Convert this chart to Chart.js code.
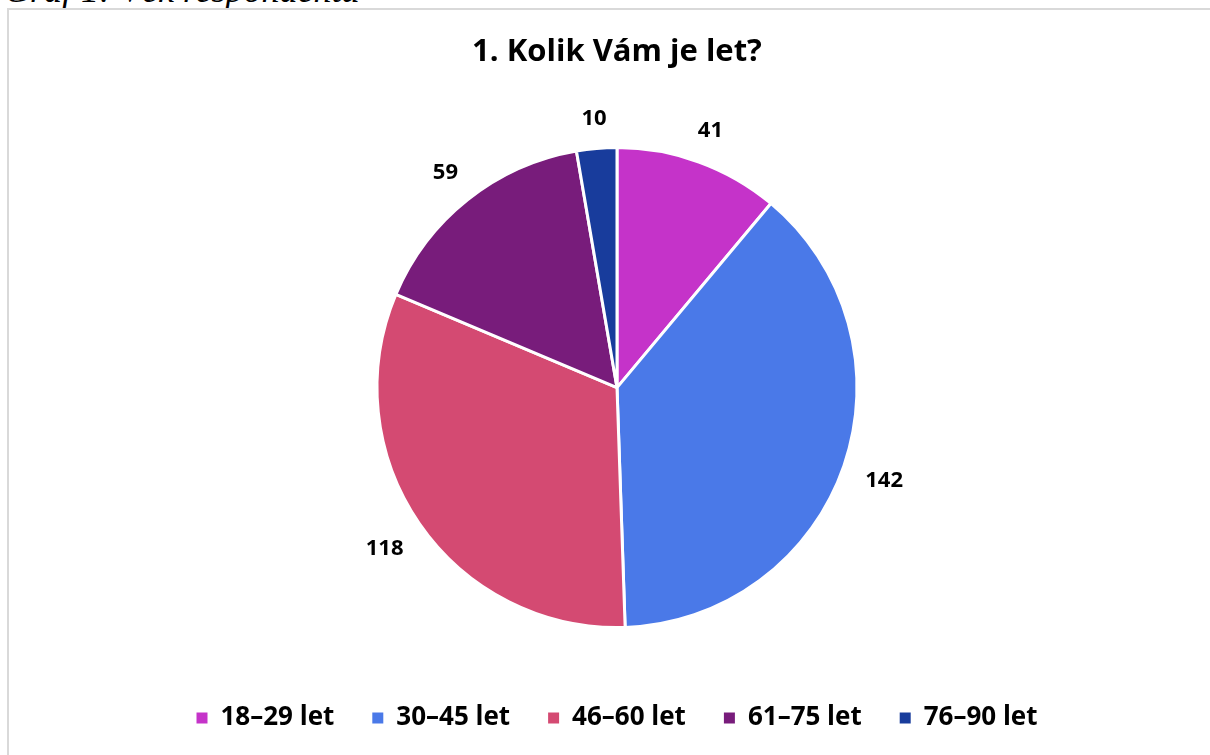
<!DOCTYPE html>
<html lang="cs">
<head>
<meta charset="utf-8">
<script src="https://cdn.jsdelivr.net/npm/chart.js@4.4.1/dist/chart.umd.min.js"></script>
<style>
  html, body { margin: 0; padding: 0; background: #fff; overflow: hidden; width: 1210px; height: 755px; }
  #caption { position: absolute; left: 4px; top: -28px; font: italic 36px/36px "Liberation Serif", "Times New Roman", serif; color: #000; white-space: nowrap; }
  #frame { position: absolute; left: 7px; top: 8px; width: 1300px; height: 900px; border-left: 2px solid #d9d9d9; border-top: 2px solid #d9d9d9; }
  #chart { position: absolute; left: 0; top: 0; }
</style>
</head>
<body>
<div id="caption">Graf 1: Věk respondentů</div>
<div id="frame"></div>
<canvas id="chart" width="1210" height="755"></canvas>
<script>
// Age groups of respondents and their counts
const titleText = '1. Kolik Vám je let?';
const categories = ['18–29 let', '30–45 let', '46–60 let', '61–75 let', '76–90 let'];
const counts = [41, 142, 118, 59, 10];
const sliceColors = ['#C533C9', '#4A79E8', '#D44A72', '#781C7B', '#183C9C'];

const FONT = "'Open Sans', 'Noto Sans', sans-serif";

// Value labels placed just outside each slice, along its mid angle
const outsideLabels = {
  id: 'outsideLabels',
  afterDatasetsDraw(chart) {
    const ctx = chart.ctx;
    const meta = chart.getDatasetMeta(0);
    const values = chart.data.datasets[0].data;
    ctx.save();
    ctx.font = 'bold 22px ' + FONT;
    ctx.fillStyle = '#000';
    ctx.textAlign = 'center';
    ctx.textBaseline = 'middle';
    meta.data.forEach((arc, i) => {
      const p = arc.getProps(['x', 'y', 'startAngle', 'endAngle', 'outerRadius'], true);
      const mid = (p.startAngle + p.endAngle) / 2;
      const text = String(values[i]);
      const w = ctx.measureText(text).width;
      const h = 16;
      const ux = Math.cos(mid), uy = Math.sin(mid);
      const d = p.outerRadius + 22 + Math.abs(ux) * w / 2 + Math.abs(uy) * h / 2;
      ctx.fillText(text, p.x + ux * d, p.y + uy * d + 1);
    });
    ctx.restore();
  }
};

new Chart(document.getElementById('chart'), {
  type: 'pie',
  data: {
    labels: categories,
    datasets: [{
      data: counts,
      backgroundColor: sliceColors,
      borderColor: '#ffffff',
      borderWidth: 3,
      radius: 240
    }]
  },
  options: {
    responsive: false,
    animation: false,
    layout: { padding: { left: 24, right: 0, top: 0, bottom: 14 } },
    plugins: {
      title: {
        display: true,
        text: titleText,
        color: '#000',
        font: { family: FONT, size: 31, weight: 'bold', lineHeight: 1.2 },
        padding: { top: 34, bottom: 37 }
      },
      legend: {
        display: true,
        position: 'bottom',
        labels: {
          color: '#000',
          font: { family: FONT, size: 26, weight: 'bold' },
          boxWidth: 11,
          boxHeight: 11,
          padding: 38,
          generateLabels: () => categories.map((c, i) => ({
            text: c,
            fillStyle: sliceColors[i],
            strokeStyle: sliceColors[i],
            lineWidth: 0,
            fontColor: '#000',
            hidden: false,
            index: i
          }))
        }
      },
      tooltip: { enabled: false }
    }
  },
  plugins: [outsideLabels]
});
</script>
</body>
</html>
